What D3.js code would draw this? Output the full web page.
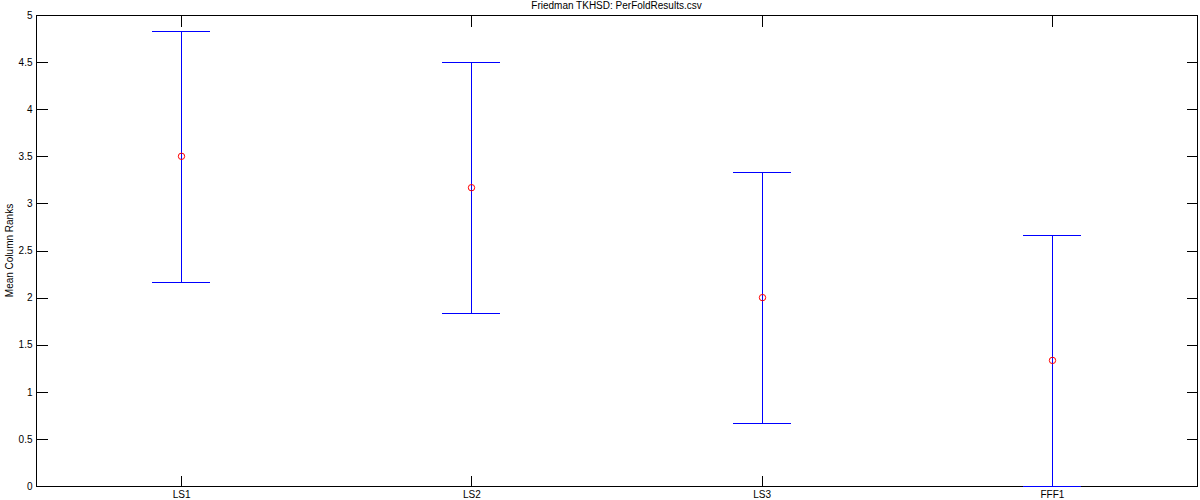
<!DOCTYPE html>
<html>
<head>
<meta charset="utf-8">
<script src="https://cdn.jsdelivr.net/npm/d3@7"></script>
<style>
  html, body { margin: 0; padding: 0; background: #fff; }
  svg { display: block; }
  text { font-family: "Liberation Sans", Arial, sans-serif; font-size: 10px; fill: #000; }
</style>
</head>
<body>
<svg id="chart" width="1200" height="500"></svg>
<script>
const categories = ["LS1", "LS2", "LS3", "FFF1"];
const meanRanks = [3.5, 3.1667, 2.0, 1.3333];
const lowerBounds = [2.1667, 1.8333, 0.6667, 0.0];
const upperBounds = [4.8333, 4.5, 3.3333, 2.6667];
const yTicks = [0, 0.5, 1, 1.5, 2, 2.5, 3, 3.5, 4, 4.5, 5];
const titleText = "Friedman TKHSD: PerFoldResults.csv";
const yLabelText = "Mean Column Ranks";

(function () {
const svg = d3.select("#chart");
const pLeft = 36, pRight = 1197, pTop = 15, pBottom = 486;
const tickLen = 11;

const x = d3.scaleLinear().domain([0.5, categories.length + 0.5]).range([pLeft, pRight]);
const y = d3.scaleLinear().domain([0, 5]).range([pBottom, pTop]);

const g = svg.append("g").attr("shape-rendering", "crispEdges");

// axes box
g.append("rect").attr("x", pLeft + 0.5).attr("y", pTop + 0.5)
  .attr("width", pRight - pLeft).attr("height", pBottom - pTop)
  .attr("fill", "none").attr("stroke", "#000").attr("stroke-width", 1);

// y ticks (left and right, inward)
const yAxisL = d3.axisLeft(y).tickValues(yTicks).tickSize(-tickLen).tickPadding(4)
  .tickFormat(d => d3.format("~g")(d));
const gyl = svg.append("g").attr("transform", `translate(${pLeft + 0.5},0)`).call(yAxisL);
const yAxisR = d3.axisRight(y).tickValues(yTicks).tickSize(-tickLen).tickFormat("");
const gyr = svg.append("g").attr("transform", `translate(${pRight + 0.5},0)`).call(yAxisR);

// x ticks (bottom and top, inward)
const xAxisB = d3.axisBottom(x).tickValues(d3.range(1, categories.length + 1))
  .tickSize(-tickLen).tickPadding(4).tickFormat(d => categories[d - 1]);
const gxb = svg.append("g").attr("transform", `translate(0,${pBottom + 0.5})`).call(xAxisB);
const xAxisT = d3.axisTop(x).tickValues(d3.range(1, categories.length + 1))
  .tickSize(-tickLen).tickFormat("");
const gxt = svg.append("g").attr("transform", `translate(0,${pTop + 0.5})`).call(xAxisT);

[gyl, gyr, gxb, gxt].forEach(a => {
  a.select(".domain").remove();
  a.selectAll(".tick line").attr("stroke", "#000").attr("shape-rendering", "crispEdges");
  a.selectAll("text").attr("font-family", "'Liberation Sans', Arial, sans-serif")
    .attr("font-size", 10).attr("fill", "#000");
});

// error bars (drawn over the axes)
const blue = "#0000ff";
const bars = svg.append("g").attr("shape-rendering", "crispEdges");
categories.forEach((c, i) => {
  const xi = x(i + 1);
  const hw = x(1.1) - x(1);
  bars.append("line").attr("x1", Math.round(xi) + 0.5).attr("x2", Math.round(xi) + 0.5)
    .attr("y1", y(upperBounds[i])).attr("y2", y(lowerBounds[i]))
    .attr("stroke", blue).attr("stroke-width", 1);
  [upperBounds[i], lowerBounds[i]].forEach(v => {
    bars.append("line").attr("x1", xi - hw).attr("x2", xi + hw)
      .attr("y1", Math.round(y(v)) + 0.5).attr("y2", Math.round(y(v)) + 0.5)
      .attr("stroke", blue).attr("stroke-width", 1);
  });
});

// means
svg.append("g").selectAll("circle").data(meanRanks).join("circle")
  .attr("cx", (d, i) => Math.round(x(i + 1)) + 0.5)
  .attr("cy", d => y(d))
  .attr("r", 3.2)
  .attr("fill", "none").attr("stroke", "#ff0000").attr("stroke-width", 1);

// title
svg.append("text").attr("x", (pLeft + pRight) / 2).attr("y", 9)
  .attr("text-anchor", "middle").text(titleText);

// y label
svg.append("text").attr("transform", `translate(13,${(pTop + pBottom) / 2}) rotate(-90)`)
  .attr("text-anchor", "middle").text(yLabelText);
})();
</script>
</body>
</html>
